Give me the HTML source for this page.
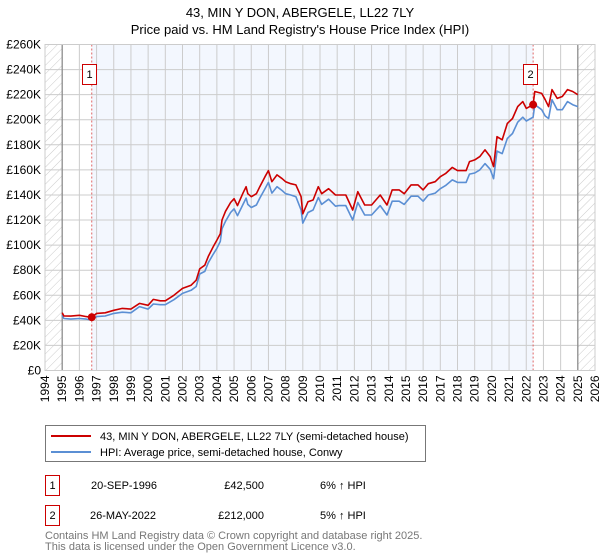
<!DOCTYPE html>
<html><head><meta charset="utf-8"><style>
body{margin:0;background:#fff;font-family:"Liberation Sans","DejaVu Sans",sans-serif;}
#wrap{position:relative;width:600px;height:560px;overflow:hidden}
</style></head><body>
<div id="wrap">
<svg id="chart" width="600" height="560" viewBox="0 0 600 560" style="position:absolute;left:0;top:0">
<defs>
<pattern id="hatch" patternUnits="userSpaceOnUse" width="6" height="6" patternTransform="rotate(45)">
<line x1="0" y1="0" x2="0" y2="6" stroke="#ccc" stroke-width="1"/>
</pattern>
</defs>
<text x="300" y="17" text-anchor="middle" font-size="13" fill="#000">43, MIN Y DON, ABERGELE, LL22 7LY</text>
<text x="300" y="34" text-anchor="middle" font-size="13" fill="#000">Price paid vs. HM Land Registry's House Price Index (HPI)</text>
<g id="plot"></g>
<g>
<rect x="45.5" y="425.5" width="380" height="36" fill="#fff" stroke="#777"/>
<line x1="51" y1="436" x2="91" y2="436" stroke="#cc0000" stroke-width="2"/>
<text x="100" y="440" font-size="11">43, MIN Y DON, ABERGELE, LL22 7LY (semi-detached house)</text>
<line x1="51" y1="452" x2="91" y2="452" stroke="#5b8fd4" stroke-width="2"/>
<text x="100" y="456" font-size="11">HPI: Average price, semi-detached house, Conwy</text>
</g>
<g font-size="11">
<rect x="45.5" y="475.5" width="14" height="20" fill="#fff" stroke="#cc0000"/>
<text x="52.5" y="489" text-anchor="middle">1</text>
<text x="91" y="489">20-SEP-1996</text>
<text x="264" y="489" text-anchor="end">£42,500</text>
<text x="320" y="489">6% ↑ HPI</text>
<rect x="45.5" y="505.5" width="14" height="20" fill="#fff" stroke="#cc0000"/>
<text x="52.5" y="519" text-anchor="middle">2</text>
<text x="90" y="519">26-MAY-2022</text>
<text x="264" y="519" text-anchor="end">£212,000</text>
<text x="320" y="519">5% ↑ HPI</text>
</g>
<text x="45" y="539" font-size="11" fill="#777">Contains HM Land Registry data © Crown copyright and database right 2025.</text>
<text x="45" y="550" font-size="11" fill="#777">This data is licensed under the Open Government Licence v3.0.</text>
</svg>
</div>
<script>
const yTicks=[0,20,40,60,80,100,120,140,160,180,200,220,240,260];
const xYears=[1994,1995,1996,1997,1998,1999,2000,2001,2002,2003,2004,2005,2006,2007,2008,2009,2010,2011,2012,2013,2014,2015,2016,2017,2018,2019,2020,2021,2022,2023,2024,2025,2026];
const dates=[1995.0,1995.1,1995.5,1996.0,1996.4,1996.72,1997.0,1997.5,1998.0,1998.5,1999.0,1999.5,2000.0,2000.3,2000.7,2001.0,2001.5,2002.0,2002.5,2002.8,2003.0,2003.3,2003.5,2003.8,2004.0,2004.2,2004.3,2004.5,2004.8,2005.0,2005.2,2005.5,2005.7,2005.8,2006.0,2006.3,2006.5,2006.8,2007.0,2007.2,2007.5,2007.8,2008.0,2008.3,2008.6,2008.9,2009.0,2009.3,2009.6,2009.9,2010.1,2010.5,2010.9,2011.1,2011.5,2011.9,2012.2,2012.6,2013.0,2013.5,2013.9,2014.2,2014.6,2014.9,2015.3,2015.7,2016.0,2016.3,2016.7,2017.0,2017.3,2017.7,2018.0,2018.5,2018.7,2019.0,2019.3,2019.6,2019.9,2020.1,2020.3,2020.6,2020.9,2021.2,2021.5,2021.8,2022.0,2022.4,2022.5,2022.9,2023.1,2023.3,2023.5,2023.8,2024.1,2024.4,2024.7,2025.0];
const priceValues=[46,43.5,43.4,44,43,42.3,45.5,46,48,49.5,49,53.5,52,56.7,55.6,55.6,60,65.5,68,72,81,84,91,99,104,109,120,127,134,137,131.5,141,146.6,141,138.6,141,146.6,154.6,159.4,150.6,156,153,150.6,149,148,138.6,125,134.6,136,146.6,141,145,140,140,140,128,142.6,132,132,140,132,144,144,141,148,148,144,149,150.6,154.6,157,162,159.4,159.4,166.6,168,170.6,176,170.6,162.6,186.5,184,197,201,210.5,214.5,209,212,222.5,221,216,210.5,224,217,218.5,224,222.5,220];
const hpiValues=[44,41.5,41,41.5,41,40.2,43,43.5,45.5,46.5,46,51,49,53,52.5,52.5,56.5,61.5,64,67,77,79,86,93,97.5,103,113,119,126,129,123.5,132,137.5,132.5,130,132,137.5,145,150,141.5,146.6,143.5,141,140,138.6,128,117.5,126,128,138,132.5,136.6,131,131.5,131.5,120,134,124,124,131.5,124,135,135,132.5,139,139,135,140,141.5,145,147.5,152,150,150,156.6,157.5,160,165,160.5,153,175,173,185,189,198,202,199,202,212,208,203,201,216,208,208,214.5,212,210.5];
const saleDates=[1996.72,2022.4];
const salePrices=[42.5,212];
const saleLabels=["1","2"];

const NS="http://www.w3.org/2000/svg";
const L=45,R=595,T=44.5,B=370.5;
const x=yr=>L+(yr-1994)*(R-L)/32;
const y=v=>B-v*(B-T)/260;
const g=document.getElementById('plot');
function mk(tag,attrs,parent){const e=document.createElementNS(NS,tag);for(const k in attrs)e.setAttribute(k,attrs[k]);(parent||g).appendChild(e);return e;}

let e;
e=mk('rect',{x:L,y:T,width:R-L,height:B-T,fill:'#fff'});


e=mk('rect',{x:x(saleDates[0]),y:T,width:x(saleDates[1])-x(saleDates[0]),height:B-T,fill:'#f3f7fe'});


e=mk('rect',{x:L,y:T,width:x(1995)-L,height:B-T,fill:'url(#hatch)'});


e=mk('rect',{x:x(2025),y:T,width:R-x(2025),height:B-T,fill:'url(#hatch)'});



yTicks.forEach(v=>{
 const l=mk('line',{x1:L,x2:R,y1:y(v),y2:y(v),stroke:'#ccc','stroke-width':1});
 
 
 const t=mk('text',{x:L-4,y:y(v)+4,'text-anchor':'end','font-size':12,fill:'#000'});
 t.textContent=v===0?'£0':'£'+v+'K';
 
 
});
xYears.forEach(yr=>{
 const l=mk('line',{x1:x(yr),x2:x(yr),y1:T,y2:B,stroke:'#ccc','stroke-width':1});
 
 
 const t=mk('text',{x:0,y:0,'text-anchor':'end','font-size':12,fill:'#000',transform:`translate(${x(yr)+4},${B+5}) rotate(-90)`});
 t.textContent=yr;
 
 
});
[1995,2025].forEach(yr=>{
 const l=mk('line',{x1:x(yr),x2:x(yr),y1:T,y2:B,stroke:'#888','stroke-width':1.2});
 
 
});
saleDates.forEach((d,i)=>{
 const l=mk('line',{x1:x(d),x2:x(d),y1:T,y2:B,stroke:'#e06666','stroke-width':1,'stroke-dasharray':'2,2'});
 
 
});
function path(vals,color,name){
 const d=dates.map((t,i)=>(i?'L':'M')+x(t).toFixed(1)+','+y(vals[i]).toFixed(1)).join('');
 const p=mk('path',{d:d,fill:'none',stroke:color,'stroke-width':1.6,'stroke-linejoin':'round'});
 
 
}
path(hpiValues,'#5b8fd4','hpi-line');
path(priceValues,'#cc0000','price-line');
saleDates.forEach((d,i)=>{
 const c=mk('circle',{cx:x(d),cy:y(salePrices[i]),r:4,fill:'#cc0000'});
 
 
 const bx=Math.round(x(d)-10)+0.5;
 const r=mk('rect',{x:bx,y:64.5,width:14,height:20,fill:'#fff',stroke:'#cc0000'});
 
 
 const t=mk('text',{x:bx+7,y:78,'text-anchor':'middle','font-size':11});
 t.textContent=saleLabels[i];
 
 
});
e=mk('rect',{x:L,y:T,width:R-L,height:B-T,fill:'none',stroke:'#ccc'});


</script>
</body></html>
